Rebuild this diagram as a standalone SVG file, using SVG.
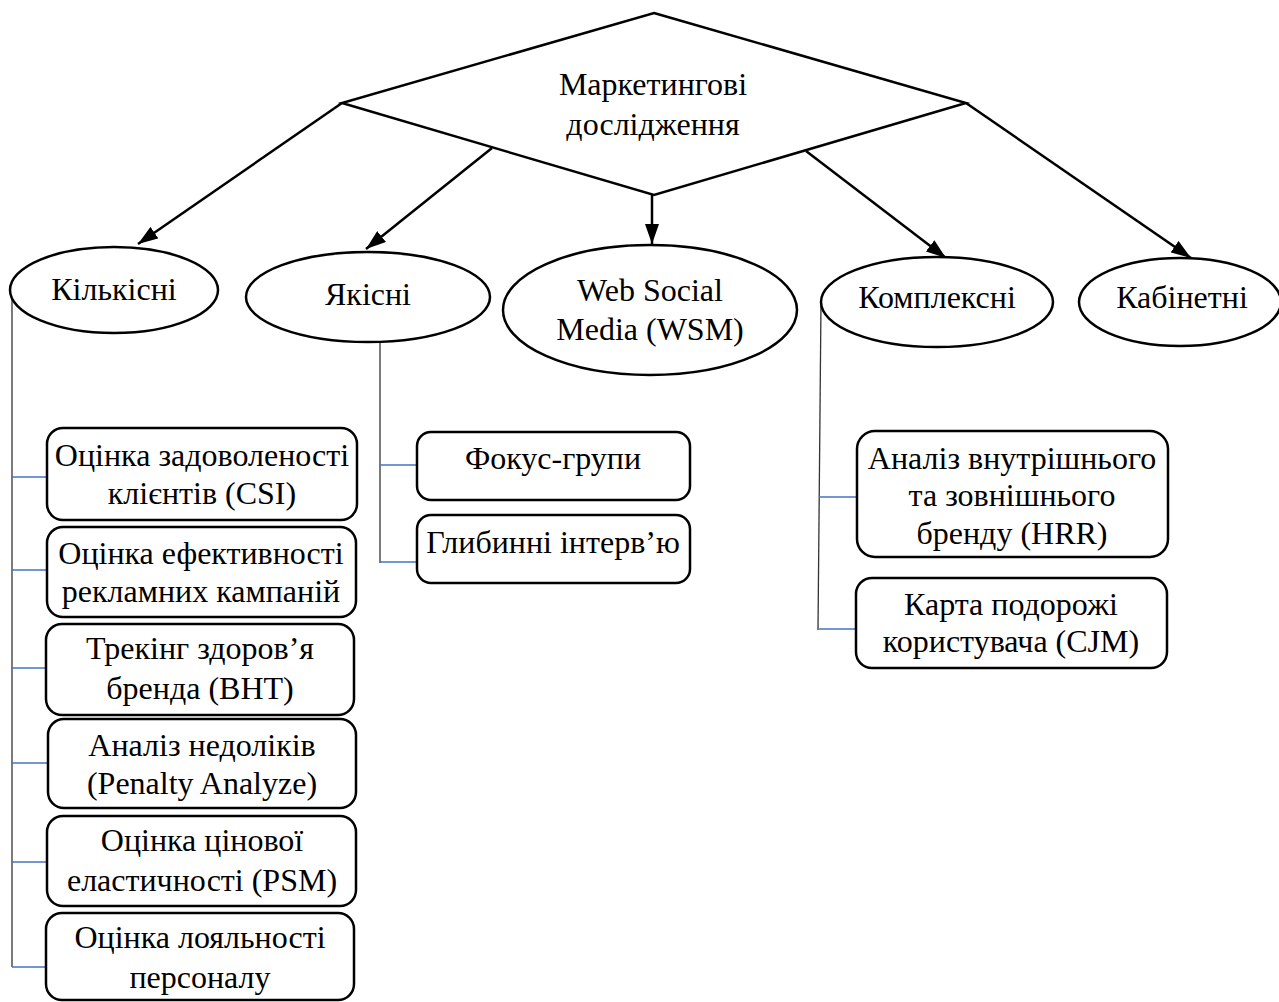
<svg xmlns="http://www.w3.org/2000/svg" width="1279" height="1002" viewBox="0 0 1279 1002">
  <style>
    .shape { fill: #fff; stroke: #000; stroke-width: 2.5; }
    .lbl { font-family: "Liberation Serif", "Times New Roman", serif; font-size: 32px; fill: #000; text-anchor: middle; }
    .arrow { stroke: #000; stroke-width: 2.5; fill: none; marker-end: url(#head); }
    .trunk { stroke: #333; stroke-width: 1.3; fill: none; }
    .branch { stroke: #4472C4; stroke-width: 1.3; fill: none; }
  </style>
  <defs>
    <marker id="head" viewBox="0 0 20 14" refX="20" refY="7" markerWidth="20" markerHeight="14" markerUnits="userSpaceOnUse" orient="auto">
      <path d="M0,0 L20,7 L0,14 z" fill="#000"/>
    </marker>
  </defs>

  <rect width="1279" height="1002" fill="#fff"/>

  <!-- connectors -->
  <g id="connectors">
    <line class="arrow" x1="342" y1="103" x2="138" y2="244"/>
    <line class="arrow" x1="492" y1="148" x2="366" y2="249"/>
    <line class="arrow" x1="652" y1="195" x2="652" y2="244"/>
    <line class="arrow" x1="806" y1="151" x2="946" y2="258"/>
    <line class="arrow" x1="966" y1="103" x2="1191" y2="258"/>

    <!-- Кількісні tree -->
    <line class="trunk" x1="12" y1="297" x2="12" y2="967"/>
    <line class="branch" x1="12" y1="477" x2="47" y2="477"/>
    <line class="branch" x1="12" y1="570" x2="47" y2="570"/>
    <line class="branch" x1="12" y1="668" x2="46" y2="668"/>
    <line class="branch" x1="12" y1="763" x2="48" y2="763"/>
    <line class="branch" x1="12" y1="862" x2="47" y2="862"/>
    <line class="branch" x1="12" y1="967" x2="46" y2="967"/>

    <!-- Якісні tree -->
    <line class="trunk" x1="380" y1="342" x2="380" y2="563"/>
    <line class="branch" x1="380" y1="465" x2="417" y2="465"/>
    <line class="branch" x1="380" y1="562" x2="417" y2="562"/>

    <!-- Комплексні tree -->
    <line class="trunk" x1="821" y1="302" x2="818" y2="630"/>
    <line class="branch" x1="819" y1="497" x2="857" y2="497"/>
    <line class="branch" x1="819" y1="629" x2="856" y2="629"/>
  </g>

  <g id="root">
    <polygon class="shape" points="654,13 966,103 654,195 342,103"/>
    <text class="lbl" x="653" y="95">Маркетингові</text>
    <text class="lbl" x="653" y="135">дослідження</text>
  </g>

  <g id="quantitative">
    <ellipse class="shape" cx="114" cy="290" rx="104" ry="43"/>
    <text class="lbl" x="114" y="300">Кількісні</text>
  </g>
  <g id="qualitative">
    <ellipse class="shape" cx="368" cy="297" rx="122" ry="45"/>
    <text class="lbl" x="368" y="305">Якісні</text>
  </g>
  <g id="wsm">
    <ellipse class="shape" cx="650" cy="310" rx="147" ry="65"/>
    <text class="lbl" x="650" y="301">Web Social</text>
    <text class="lbl" x="650" y="340">Media (WSM)</text>
  </g>
  <g id="complex">
    <ellipse class="shape" cx="937" cy="302" rx="116" ry="45"/>
    <text class="lbl" x="937" y="308">Комплексні</text>
  </g>
  <g id="desk">
    <ellipse class="shape" cx="1180" cy="302" rx="101" ry="44"/>
    <text class="lbl" x="1182" y="308">Кабінетні</text>
  </g>

  <g id="csi">
    <rect class="shape" x="47" y="428" width="310" height="92" rx="16"/>
    <text class="lbl" x="202" y="466">Оцінка задоволеності</text>
    <text class="lbl" x="202" y="504">клієнтів (CSI)</text>
  </g>
  <g id="ad-efficiency">
    <rect class="shape" x="47" y="527" width="309" height="90" rx="16"/>
    <text class="lbl" x="201" y="564">Оцінка ефективності</text>
    <text class="lbl" x="201" y="602">рекламних кампаній</text>
  </g>
  <g id="bht">
    <rect class="shape" x="46" y="624" width="308" height="91" rx="16"/>
    <text class="lbl" x="200" y="659">Трекінг здоров’я</text>
    <text class="lbl" x="200" y="699">бренда (BHT)</text>
  </g>
  <g id="penalty">
    <rect class="shape" x="48" y="719" width="308" height="89" rx="16"/>
    <text class="lbl" x="202" y="756">Аналіз недоліків</text>
    <text class="lbl" x="202" y="794">(Penalty Analyze)</text>
  </g>
  <g id="psm">
    <rect class="shape" x="47" y="816" width="309" height="90" rx="16"/>
    <text class="lbl" x="202" y="851">Оцінка цінової</text>
    <text class="lbl" x="202" y="891">еластичності (PSM)</text>
  </g>
  <g id="loyalty">
    <rect class="shape" x="46" y="913" width="308" height="87" rx="16"/>
    <text class="lbl" x="200" y="948">Оцінка лояльності</text>
    <text class="lbl" x="200" y="988">персоналу</text>
  </g>

  <g id="focus-groups">
    <rect class="shape" x="417" y="432" width="273" height="68" rx="14"/>
    <text class="lbl" x="553" y="469">Фокус-групи</text>
  </g>
  <g id="interviews">
    <rect class="shape" x="417" y="515" width="273" height="68" rx="14"/>
    <text class="lbl" x="553" y="553">Глибинні інтерв’ю</text>
  </g>

  <g id="hrr">
    <rect class="shape" x="857" y="431" width="311" height="126" rx="18"/>
    <text class="lbl" x="1012" y="469">Аналіз внутрішнього</text>
    <text class="lbl" x="1012" y="506">та зовнішнього</text>
    <text class="lbl" x="1012" y="544">бренду (HRR)</text>
  </g>
  <g id="cjm">
    <rect class="shape" x="856" y="578" width="311" height="90" rx="16"/>
    <text class="lbl" x="1011" y="615">Карта подорожі</text>
    <text class="lbl" x="1011" y="652">користувача (CJM)</text>
  </g>
</svg>
